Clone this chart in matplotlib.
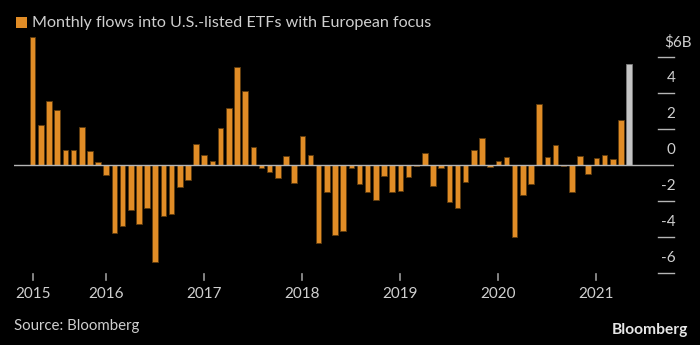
import matplotlib
matplotlib.use("Agg")
import matplotlib.pyplot as plt
from matplotlib.patches import Rectangle
from matplotlib.transforms import blended_transform_factory
import pandas as pd

# ---- data (USD billions, monthly) ----
months = pd.period_range("2015-04", "2021-05", freq="M").strftime("%Y-%m").tolist()
flows = [7.13, 2.24, 3.57, 3.04, 0.81, 0.81, 2.13, 0.76, 0.15,
         -0.57, -3.76, -3.41, -2.48, -3.26, -2.37, -5.39, -2.85, -2.74, -1.22, -0.81, 1.17,
         0.56, 0.20, 2.07, 3.17, 5.44, 4.13, 0.98, -0.15, -0.41, -0.70, 0.50, -1.02,
         1.59, 0.56, -4.31, -1.48, -3.87, -3.67, -0.15, -1.06, -1.48, -1.94, -0.63, -1.48,
         -1.43, -0.69, -0.03, 0.67, -1.17, -0.15, -2.04, -2.37, -0.93, 0.81, 1.48, -0.09,
         0.20, 0.44, -4.02, -1.67, -1.07, 3.41, 0.44, 1.11, -0.04, -1.48, 0.50, -0.50,
         0.39, 0.56, 0.31, 2.50, 5.61]
partial_month = "2021-05"
year_tick_months = ["2015-04", "2016-01", "2017-01", "2018-01", "2019-01", "2020-01", "2021-01"]
year_labels = ["2015", "2016", "2017", "2018", "2019", "2020", "2021"]
y_ticks = [6, 4, 2, 0, -2, -4, -6]
y_labels = [r"\$6B", "4", "2", "0", "-2", "-4", "-6"]
title = "Monthly flows into U.S.-listed ETFs with European focus"

# ---- style ----
BG = "#000000"
ORANGE = "#e08c26"
EDGE = "#5e3b0e"
GREY_BAR = "#c4c4c4"
TEXT = "#cfcfcf"
LINE = "#b5b5b5"
plt.rcParams["font.family"] = ["Lato", "DejaVu Sans"]

W, H = 700, 345
fig = plt.figure(figsize=(W / 100, H / 100), dpi=100, facecolor=BG)

def fx(px):
    return px / W

def fy(py):
    return 1 - py / H

ax_left, ax_right = 14, 674
ax_top, ax_bottom = 33.6, 276.6
ax = fig.add_axes([fx(ax_left), fy(ax_bottom), fx(ax_right - ax_left), (ax_bottom - ax_top) / H])
ax.set_facecolor(BG)

x = list(range(len(months)))
colors = [GREY_BAR if m == partial_month else ORANGE for m in months]
edges = ["#7a7a7a" if m == partial_month else EDGE for m in months]
ax.bar(x, flows, width=0.68, color=colors, edgecolor=edges, linewidth=0.6, zorder=2)

ax.set_xlim(-2.29, 78.5)
ax.set_ylim(-6.2, 7.3)
for s in ax.spines.values():
    s.set_visible(False)
ax.set_xticks([])
ax.set_yticks([])

# zero line
ax.axhline(0, color=LINE, lw=1.0, zorder=3)

# right-side tick marks and labels
tr = blended_transform_factory(ax.transAxes, ax.transData)
x0 = (658 - ax_left) / (ax_right - ax_left)
for v, lab in zip(y_ticks, y_labels):
    if v != 0:
        ax.plot([x0, 1.0], [v, v], color=LINE, lw=1.0, transform=tr, clip_on=False)
    dx = 13 if lab.startswith(r"\$") else 1
    ax.annotate(lab, xy=(1.0, v), xycoords=tr, xytext=(dx, 10.8), textcoords="offset points",
                ha="right", va="center", color=TEXT, fontsize=11)

# year ticks and labels below
trx = blended_transform_factory(ax.transData, fig.transFigure)
for m, lab in zip(year_tick_months, year_labels):
    i = months.index(m)
    ax.plot([i, i], [fy(273.5), fy(279.5)], color="#9a9a9a", lw=1.2, transform=trx, clip_on=False)
    ax.text(i, fy(294), lab, transform=trx, ha="center", va="center", color=TEXT, fontsize=11)

# title with legend square
fig.patches.append(Rectangle((fx(16), fy(28)), fx(10.7), 10.7 / H, transform=fig.transFigure,
                             facecolor=ORANGE, edgecolor="none"))
fig.text(fx(32.5), fy(22.5), title, ha="left", va="center", color=TEXT, fontsize=11.6)

# footer
fig.text(fx(14), fy(326), "Source: Bloomberg", ha="left", va="center", color=TEXT, fontsize=10.8)
fig.text(fx(688), fy(330), "Bloomberg", ha="right", va="center", color="#e6e6e6",
         fontsize=11.2, fontweight="bold")

fig.savefig("out.png", dpi=100, facecolor=BG)
